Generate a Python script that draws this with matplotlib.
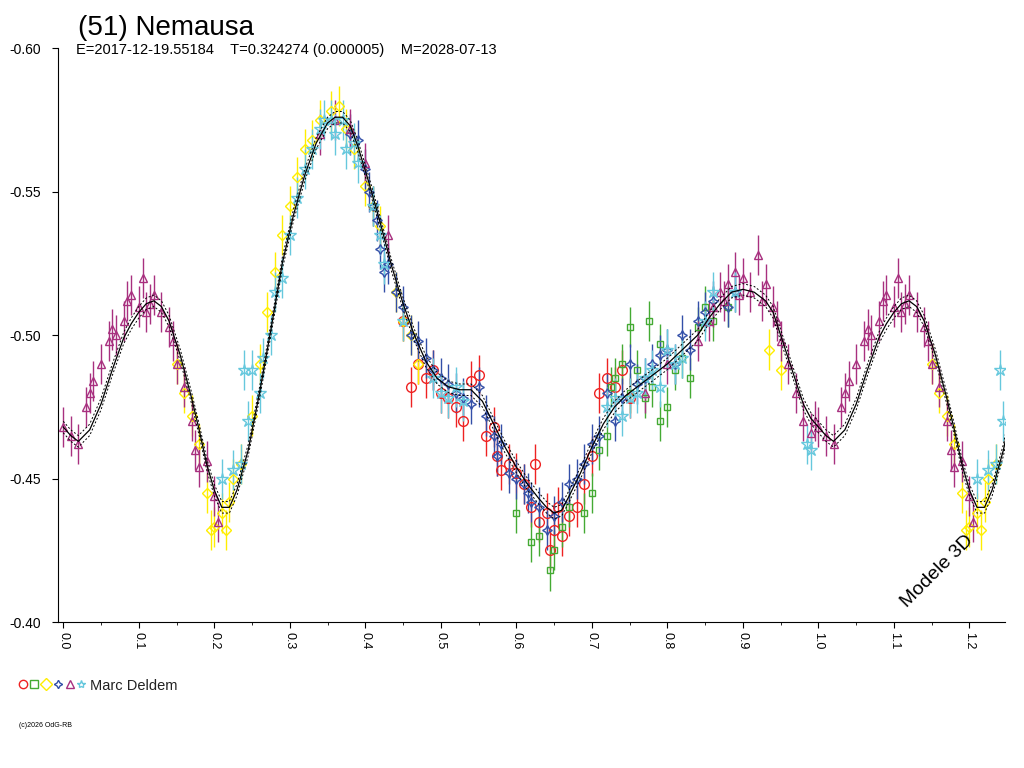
import matplotlib
matplotlib.use("Agg")
import matplotlib.pyplot as plt
import numpy as np

# ─── Data ────────────────────────────────────────────────────────────────
model_phase = [0.00, 0.01, 0.02, 0.035, 0.05, 0.065, 0.08, 0.09, 0.10, 0.11, 0.12, 0.13,
               0.14, 0.155, 0.17, 0.18, 0.19, 0.20, 0.21, 0.22, 0.23, 0.245, 0.26, 0.275,
               0.29, 0.305, 0.32, 0.335, 0.35, 0.36, 0.37, 0.38, 0.39, 0.405, 0.42, 0.435,
               0.45, 0.465, 0.48, 0.495, 0.51, 0.525, 0.54, 0.555, 0.57, 0.585, 0.60,
               0.615, 0.63, 0.64, 0.65, 0.66, 0.67, 0.685, 0.70, 0.715, 0.73, 0.745,
               0.76, 0.78, 0.80, 0.82, 0.84, 0.855, 0.87, 0.885, 0.90, 0.915, 0.93,
               0.94, 0.95, 0.965, 0.98, 0.99, 1.00]
model_mag = [-0.468, -0.465, -0.463, -0.467, -0.476, -0.488, -0.499, -0.504, -0.508, -0.511,
             -0.512, -0.510, -0.505, -0.493, -0.478, -0.467, -0.455, -0.446, -0.440, -0.440,
             -0.446, -0.460, -0.480, -0.502, -0.525, -0.542, -0.556, -0.567, -0.574, -0.576,
             -0.576, -0.573, -0.566, -0.553, -0.539, -0.524, -0.511, -0.500, -0.491, -0.485,
             -0.482, -0.481, -0.481, -0.477, -0.469, -0.461, -0.454, -0.448, -0.443, -0.440,
             -0.438, -0.439, -0.444, -0.452, -0.461, -0.469, -0.475, -0.479, -0.482, -0.486,
             -0.490, -0.495, -0.500, -0.506, -0.511, -0.515, -0.516, -0.515, -0.512, -0.508,
             -0.500, -0.488, -0.476, -0.471, -0.468]

red_phase = [0.45, 0.46, 0.47, 0.48, 0.49, 0.50, 0.51, 0.52, 0.53, 0.54, 0.55, 0.56, 0.57,
             0.575, 0.58, 0.59, 0.60, 0.61, 0.62, 0.625, 0.63, 0.64, 0.645, 0.65, 0.655,
             0.66, 0.67, 0.68, 0.69, 0.70, 0.71, 0.72, 0.73, 0.74, 0.75]
red_mag = [-0.505, -0.482, -0.490, -0.485, -0.488, -0.480, -0.478, -0.475, -0.470, -0.484,
           -0.486, -0.465, -0.468, -0.458, -0.453, -0.455, -0.452, -0.448, -0.440, -0.455,
           -0.435, -0.438, -0.425, -0.432, -0.440, -0.430, -0.437, -0.440, -0.448, -0.458,
           -0.480, -0.485, -0.482, -0.488, -0.478]

green_phase = [0.60, 0.62, 0.63, 0.645, 0.65, 0.66, 0.67, 0.69, 0.70, 0.71, 0.72, 0.725,
               0.73, 0.74, 0.75, 0.76, 0.77, 0.775, 0.78, 0.79, 0.80, 0.81, 0.82, 0.83,
               0.84, 0.85, 0.86, 0.88, 0.75, 0.79]
green_mag = [-0.438, -0.428, -0.430, -0.418, -0.425, -0.433, -0.440, -0.438, -0.445, -0.460,
             -0.465, -0.482, -0.485, -0.490, -0.480, -0.488, -0.478, -0.505, -0.482, -0.470,
             -0.475, -0.488, -0.492, -0.485, -0.503, -0.510, -0.505, -0.510, -0.503, -0.497]

yellow_phase = [0.15, 0.16, 0.17, 0.18, 0.19, 0.195, 0.20, 0.21, 0.215, 0.22, 0.225, 0.235,
                0.25, 0.26, 0.27, 0.28, 0.29, 0.30, 0.31, 0.32, 0.33, 0.34, 0.355, 0.365,
                0.375, 0.385, 0.40, 0.41, 0.42, 0.44, 0.45, 0.46, 0.47, 0.935, 0.95]
yellow_mag = [-0.490, -0.480, -0.472, -0.462, -0.445, -0.432, -0.433, -0.438, -0.432, -0.442,
              -0.450, -0.455, -0.472, -0.490, -0.508, -0.522, -0.535, -0.545, -0.555, -0.565,
              -0.568, -0.575, -0.578, -0.580, -0.572, -0.565, -0.552, -0.545, -0.538, -0.515,
              -0.505, -0.500, -0.490, -0.495, -0.488]

blue_phase = [0.38, 0.39, 0.40, 0.405, 0.41, 0.415, 0.42, 0.425, 0.43, 0.44, 0.45, 0.46,
              0.47, 0.48, 0.49, 0.50, 0.51, 0.52, 0.53, 0.54, 0.55, 0.56, 0.57, 0.575,
              0.58, 0.59, 0.60, 0.61, 0.615, 0.62, 0.63, 0.64, 0.65, 0.66, 0.67, 0.68,
              0.69, 0.70, 0.71, 0.72, 0.73, 0.74, 0.75, 0.76, 0.77, 0.78, 0.79, 0.80,
              0.81, 0.82, 0.83, 0.84, 0.85, 0.86, 0.88, 0.89]
blue_mag = [-0.570, -0.568, -0.558, -0.550, -0.545, -0.540, -0.530, -0.522, -0.525, -0.515,
            -0.510, -0.500, -0.498, -0.492, -0.488, -0.485, -0.483, -0.480, -0.478, -0.476,
            -0.482, -0.472, -0.465, -0.458, -0.462, -0.452, -0.450, -0.448, -0.445, -0.442,
            -0.440, -0.432, -0.437, -0.442, -0.448, -0.450, -0.455, -0.462, -0.465, -0.480,
            -0.470, -0.478, -0.490, -0.483, -0.485, -0.490, -0.493, -0.495, -0.490, -0.500,
            -0.495, -0.505, -0.508, -0.512, -0.510, -0.515]

purple_phase = [0.00, 0.01, 0.02, 0.03, 0.035, 0.04, 0.05, 0.06, 0.065, 0.07, 0.08, 0.085,
                0.09, 0.10, 0.105, 0.11, 0.115, 0.12, 0.13, 0.14, 0.145, 0.15, 0.16, 0.17,
                0.175, 0.18, 0.19, 0.20, 0.205, 0.34, 0.36, 0.38, 0.40, 0.43, 0.77, 0.80,
                0.84, 0.855, 0.86, 0.87, 0.875, 0.88, 0.89, 0.895, 0.90, 0.91, 0.92, 0.925,
                0.93, 0.94, 0.945, 0.95, 0.96, 0.97, 0.98, 0.99, 0.995]
purple_mag = [-0.468, -0.465, -0.462, -0.475, -0.480, -0.484, -0.490, -0.498, -0.502, -0.500,
              -0.505, -0.512, -0.514, -0.510, -0.520, -0.508, -0.511, -0.514, -0.508, -0.503,
              -0.498, -0.490, -0.482, -0.470, -0.460, -0.454, -0.456, -0.444, -0.435, -0.570,
              -0.575, -0.572, -0.560, -0.535, -0.480, -0.490, -0.498, -0.505, -0.510, -0.515,
              -0.512, -0.518, -0.522, -0.514, -0.520, -0.515, -0.528, -0.512, -0.518, -0.510,
              -0.505, -0.498, -0.490, -0.480, -0.470, -0.466, -0.470]

cyan_phase = [0.21, 0.225, 0.235, 0.24, 0.245, 0.25, 0.26, 0.265, 0.275, 0.28, 0.29, 0.30,
              0.31, 0.32, 0.33, 0.34, 0.345, 0.355, 0.36, 0.37, 0.375, 0.385, 0.39, 0.41,
              0.42, 0.425, 0.45, 0.49, 0.50, 0.51, 0.52, 0.53, 0.72, 0.73, 0.74, 0.75,
              0.76, 0.77, 0.78, 0.79, 0.80, 0.81, 0.82, 0.85, 0.86, 0.89, 0.985, 0.99]
cyan_mag = [-0.450, -0.453, -0.455, -0.488, -0.470, -0.488, -0.480, -0.492, -0.500, -0.515,
            -0.520, -0.535, -0.548, -0.558, -0.565, -0.572, -0.575, -0.575, -0.570, -0.575,
            -0.565, -0.567, -0.560, -0.545, -0.535, -0.525, -0.505, -0.485, -0.480, -0.478,
            -0.482, -0.477, -0.475, -0.478, -0.472, -0.478, -0.480, -0.485, -0.488, -0.482,
            -0.495, -0.490, -0.492, -0.505, -0.515, -0.515, -0.462, -0.460]

# ─── Plot ────────────────────────────────────────────────────────────────
plt.rcParams["font.family"] = ["Liberation Sans", "DejaVu Sans"]

fig = plt.figure(figsize=(10.24, 7.68), dpi=100)
ax = fig.add_axes([0.0566, 0.190, 0.9248, 0.747])

series = [
    (red_phase, red_mag, "#ee2222", "o", 7),
    (green_phase, green_mag, "#44aa33", "s", 5),
    (yellow_phase, yellow_mag, "#ffee00", "D", 5),
    (blue_phase, blue_mag, "#334fa8", (4, 1, 0), 7),
    (purple_phase, purple_mag, "#a8307f", "^", 6),
    (cyan_phase, cyan_mag, "#66c8dd", "*", 9),
]
for ph, mg, col, mk, ms in series:
    ph = np.array(ph)
    mg = np.array(mg)
    wrap = ph < 0.25
    ph_all = np.concatenate([ph, ph[wrap] + 1.0])
    mg_all = np.concatenate([mg, mg[wrap]])
    ax.errorbar(ph_all, mg_all, yerr=0.007, fmt="none", ecolor=col, elinewidth=1.0, zorder=2)
    ax.plot(ph_all, mg_all, linestyle="none", marker=mk, markersize=ms,
            markerfacecolor="none", markeredgecolor=col, markeredgewidth=1.0, zorder=3)

mp = np.array(model_phase)
mm = np.array(model_mag)
mp_all = np.concatenate([mp, mp[1:] + 1.0])
mm_all = np.concatenate([mm, mm[1:]])
ax.plot(mp_all, mm_all, color="black", linewidth=0.9, zorder=4)
ax.plot(mp_all, mm_all - 0.002, color="black", linewidth=0.7, linestyle=(0, (2, 2)), zorder=4)
ax.plot(mp_all, mm_all + 0.002, color="black", linewidth=0.7, linestyle=(0, (2, 2)), zorder=4)

ax.set_xlim(-0.007, 1.247)
ax.set_ylim(-0.40, -0.60)
ax.spines["top"].set_visible(False)
ax.spines["right"].set_visible(False)
ax.set_xticks(np.arange(0, 1.25, 0.1))
ax.set_xticklabels([f"{v:.1f}" for v in np.arange(0, 1.25, 0.1)], rotation=270, fontsize=9)
ax.set_xticks(np.arange(0, 1.25, 0.05), minor=True)
ax.set_yticks([-0.60, -0.55, -0.50, -0.45, -0.40])
ax.set_yticklabels(["-0.60", "-0.55", "-0.50", "-0.45", "-0.40"], fontsize=10)
ax.tick_params(axis="y", length=4, pad=8)
ax.tick_params(axis="x", length=4)

fig.text(0.076, 0.955, "(51) Nemausa", fontsize=20)
fig.text(0.074, 0.930,
         "E=2017-12-19.55184    T=0.324274 (0.000005)    M=2028-07-13", fontsize=10.5)
ax.text(0.97, 0.02, "Modele 3D", transform=ax.transAxes, rotation=45,
        fontsize=14, ha="right", va="bottom")

# legend line
legend_cols = ["#ee2222", "#44aa33", "#ffee00", "#334fa8", "#a8307f", "#66c8dd"]
legend_mks = ["o", "s", "D", (4, 1, 0), "^", "*"]
for i, (c, m) in enumerate(zip(legend_cols, legend_mks)):
    fig.lines.append(plt.Line2D([0.022 + i * 0.0115], [0.109], marker=m, markersize=6,
                                markerfacecolor="none", markeredgecolor=c,
                                transform=fig.transFigure))
fig.text(0.088, 0.102, "Marc Deldem", fontsize=10.5, color="#222222")
fig.text(0.019, 0.053, "(c)2026 OdG-RB", fontsize=5)

fig.savefig("out.png", dpi=100)
